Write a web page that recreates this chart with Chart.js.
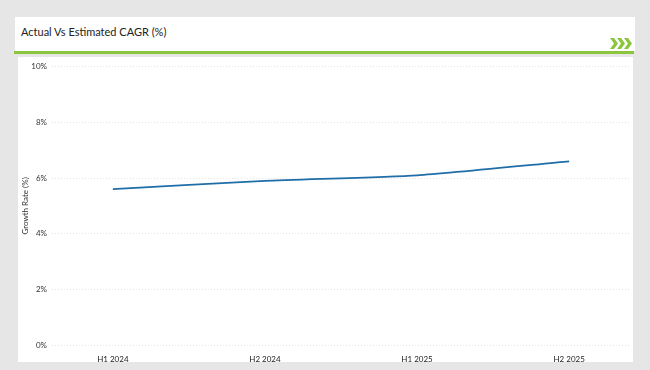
<!DOCTYPE html>
<html lang="en">
<head>
  <meta charset="UTF-8">
  <title>Actual Vs Estimated CAGR</title>
  <script src="https://cdn.jsdelivr.net/npm/chart.js"></script>
  <style>
    body { margin: 0; background: #e6e6e6; width: 650px; height: 370px; position: relative; overflow: hidden; font-family: Lato, "Open Sans", sans-serif; }
    .header { position: absolute; left: 15px; top: 17px; width: 620px; height: 34px; background: #fff; }
    .header h1 { margin: 0; position: absolute; left: 6px; top: 8px; font-size: 11px; font-weight: normal; color: #222; }
    .header svg { position: absolute; right: 3px; top: 21px; }
    .bar { position: absolute; left: 14px; top: 51px; width: 620px; height: 3px; background: #8cc63f; }
    .panel { position: absolute; left: 18px; top: 57px; width: 615px; height: 305px; background: #fff; }
  </style>
</head>
<body>
  <div class="header">
    <h1>Actual Vs Estimated CAGR (%)</h1>
    <svg width="22" height="11" viewBox="0 0 22 11">
      <polygon points="0,0 4,0 8,5.5 4,11 0,11 4,5.5" fill="#8cc63f"/>
      <polygon points="7,0 11,0 15,5.5 11,11 7,11 11,5.5" fill="#8cc63f"/>
      <polygon points="14,0 18,0 22,5.5 18,11 14,11 18,5.5" fill="#8cc63f"/>
    </svg>
  </div>
  <div class="bar"></div>
  <div class="panel">
    <canvas id="cagrChart" width="615" height="305"></canvas>
  </div>

  <script>
    const periods = ['H1 2024', 'H2 2024', 'H1 2025', 'H2 2025'];
    const growthRate = [5.6, 5.9, 6.1, 6.6];
    const yTicks = [0, 2, 4, 6, 8, 10];

    const gridColor = '#e3e3e3';
    const tickFont = { family: 'Lato, "Open Sans", sans-serif', size: 8 };

    new Chart(document.getElementById('cagrChart'), {
      type: 'line',
      data: {
        datasets: [{
          label: 'Growth Rate',
          data: growthRate.map((v, i) => ({ x: i, y: v })),
          borderColor: '#1f6ea8',
          borderWidth: 1.8,
          tension: 0.2,
          pointRadius: 0,
          fill: false
        }]
      },
      options: {
        responsive: false,
        animation: false,
        layout: { padding: { top: 9, right: 3, left: 3, bottom: 0 } },
        plugins: { legend: { display: false }, tooltip: { enabled: false } },
        scales: {
          x: {
            type: 'linear',
            min: -0.4,
            max: 3.4,
            afterBuildTicks: axis => { axis.ticks = periods.map((p, i) => ({ value: i })); },
            afterFit: axis => { axis.height = 17; },
            ticks: {
              callback: v => periods[v],
              color: '#222',
              font: tickFont,
              padding: 2,
              maxRotation: 0
            },
            grid: { display: false },
            border: { display: false }
          },
          y: {
            min: 0,
            max: 10,
            afterBuildTicks: axis => { axis.ticks = yTicks.map(v => ({ value: v })); },
            afterFit: axis => { axis.width = 31; },
            ticks: {
              callback: v => v + '%',
              color: '#333',
              font: tickFont,
              padding: 5
            },
            grid: {
              color: gridColor,
              lineWidth: 1,
              drawTicks: false
            },
            border: { display: false, dash: [1, 2] },
            title: {
              display: true,
              text: 'Growth Rate (%)',
              color: '#333',
              font: { family: 'Lato, "Open Sans", sans-serif', size: 8 },
              padding: 0
            }
          }
        }
      }
    });
  </script>
</body>
</html>
